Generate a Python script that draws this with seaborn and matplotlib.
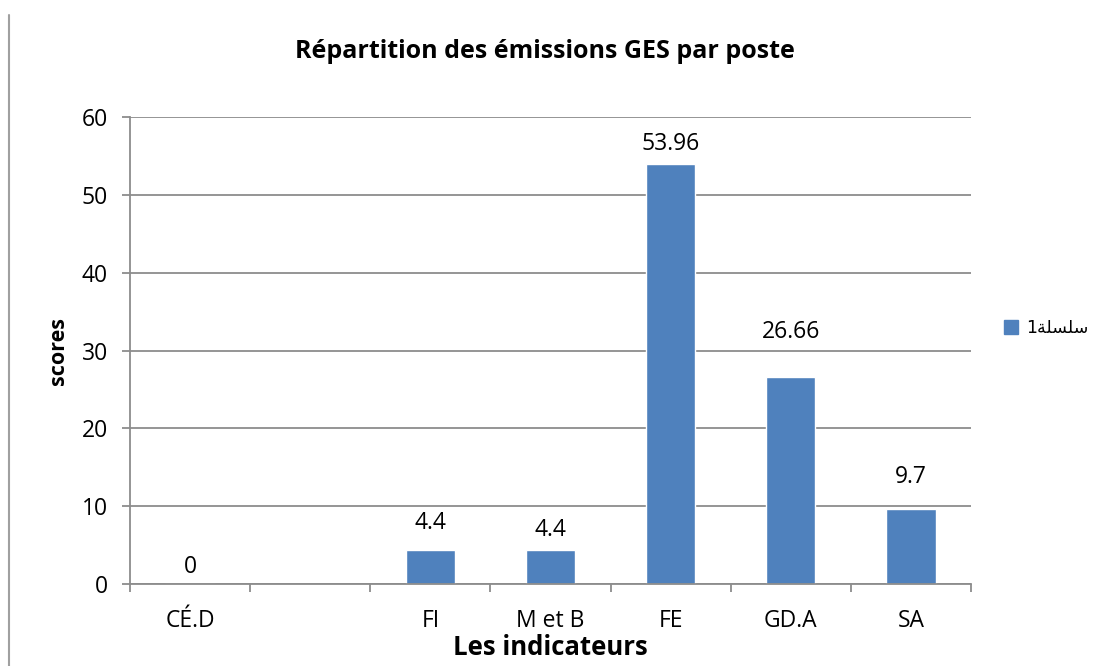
import numpy as np
import pandas as pd
import seaborn as sns
import matplotlib.pyplot as plt
from matplotlib.lines import Line2D
from matplotlib.patches import Patch

# ── data ──────────────────────────────────────────────────────────────────────
categories = ["CÉ.D", "", "FI", "M et B", "FE", "GD.A", "SA"]
scores = [0, np.nan, 4.4, 4.4, 53.96, 26.66, 9.7]
labels = ["0", "", "4.4", "4.4", "53.96", "26.66", "9.7"]
series_name = "1" + "\uFE94\uFEE0\uFEB4\uFEE0\uFEB3"   # سلسلة1 in visual order

df = pd.DataFrame({"cat": categories, "score": scores})

# ── style ─────────────────────────────────────────────────────────────────────
sns.set_theme(style="white")
plt.rcParams["font.family"] = ["Open Sans", "DejaVu Sans"]
plt.rcParams["text.color"] = "black"
plt.rcParams["xtick.color"] = "black"
plt.rcParams["ytick.color"] = "black"
plt.rcParams["axes.labelcolor"] = "black"
BAR = "#4F81BD"
GRID = "#8C8C8C"
FS = 16.5

fig = plt.figure(figsize=(11.01, 6.66), dpi=100)
ax = fig.add_axes([0.118, 0.1231, 0.764, 0.7012])

sns.barplot(data=df, x="cat", y="score", order=categories, color=BAR,
            width=0.41, saturation=1, errorbar=None, ax=ax)

ax.set_xlim(-0.5, 6.5)
ax.set_ylim(0, 60)
ax.set_yticks(range(0, 61, 10))
ax.yaxis.grid(True, color=GRID, linewidth=1.3)
ax.set_axisbelow(True)

for s in ["top", "right"]:
    ax.spines[s].set_visible(False)
for s in ["left", "bottom"]:
    ax.spines[s].set_color(GRID)
    ax.spines[s].set_linewidth(1.3)

# category labels centred, ticks at slot boundaries
ax.set_xticks(range(len(categories)))
ax.set_xticklabels(categories)
ax.set_xticks(np.arange(-0.5, len(categories), 1), minor=True)
ax.tick_params(axis="x", which="major", length=0, pad=18, labelsize=FS)
ax.tick_params(axis="x", which="minor", length=6, color=GRID, width=1.3,
               direction="out", bottom=True)
ax.tick_params(axis="y", length=6, color=GRID, width=1.3, direction="out",
               left=True, labelsize=FS, pad=10)

# data labels (offsets in px, as placed in the original chart)
label_offsets = [17, 0, 27, 20, 20, 45, 32]
for i, (v, t, off) in enumerate(zip(scores, labels, label_offsets)):
    if t:
        ax.annotate(t, (i, v), xytext=(0, off * 0.72), textcoords="offset points",
                    ha="center", va="center", fontsize=FS)

ax.set_xlabel("Les indicateurs", fontsize=18.5, fontweight="bold", labelpad=1)
ax.set_ylabel("scores", fontsize=15.5, fontweight="bold")
ax.yaxis.set_label_coords(-0.072, 0.5)
fig.text(0.4946, 1 - 58 / 666, "Répartition des émissions GES par poste",
         ha="center", va="baseline", fontsize=18, fontweight="bold")

ax.legend(handles=[Patch(color=BAR, label=series_name)],
          loc="center left", bbox_to_anchor=(1.02, 0.548),
          frameon=False, handlelength=0.85, handleheight=0.85,
          handletextpad=0.45, prop={"family": ["DejaVu Sans"], "size": 12.5})

fig.add_artist(Line2D([9 / 1101, 9 / 1101], [0, 1 - 15 / 666],
                      color="#A0A0A0", linewidth=1.5))

fig.savefig("out.png", dpi=100)
